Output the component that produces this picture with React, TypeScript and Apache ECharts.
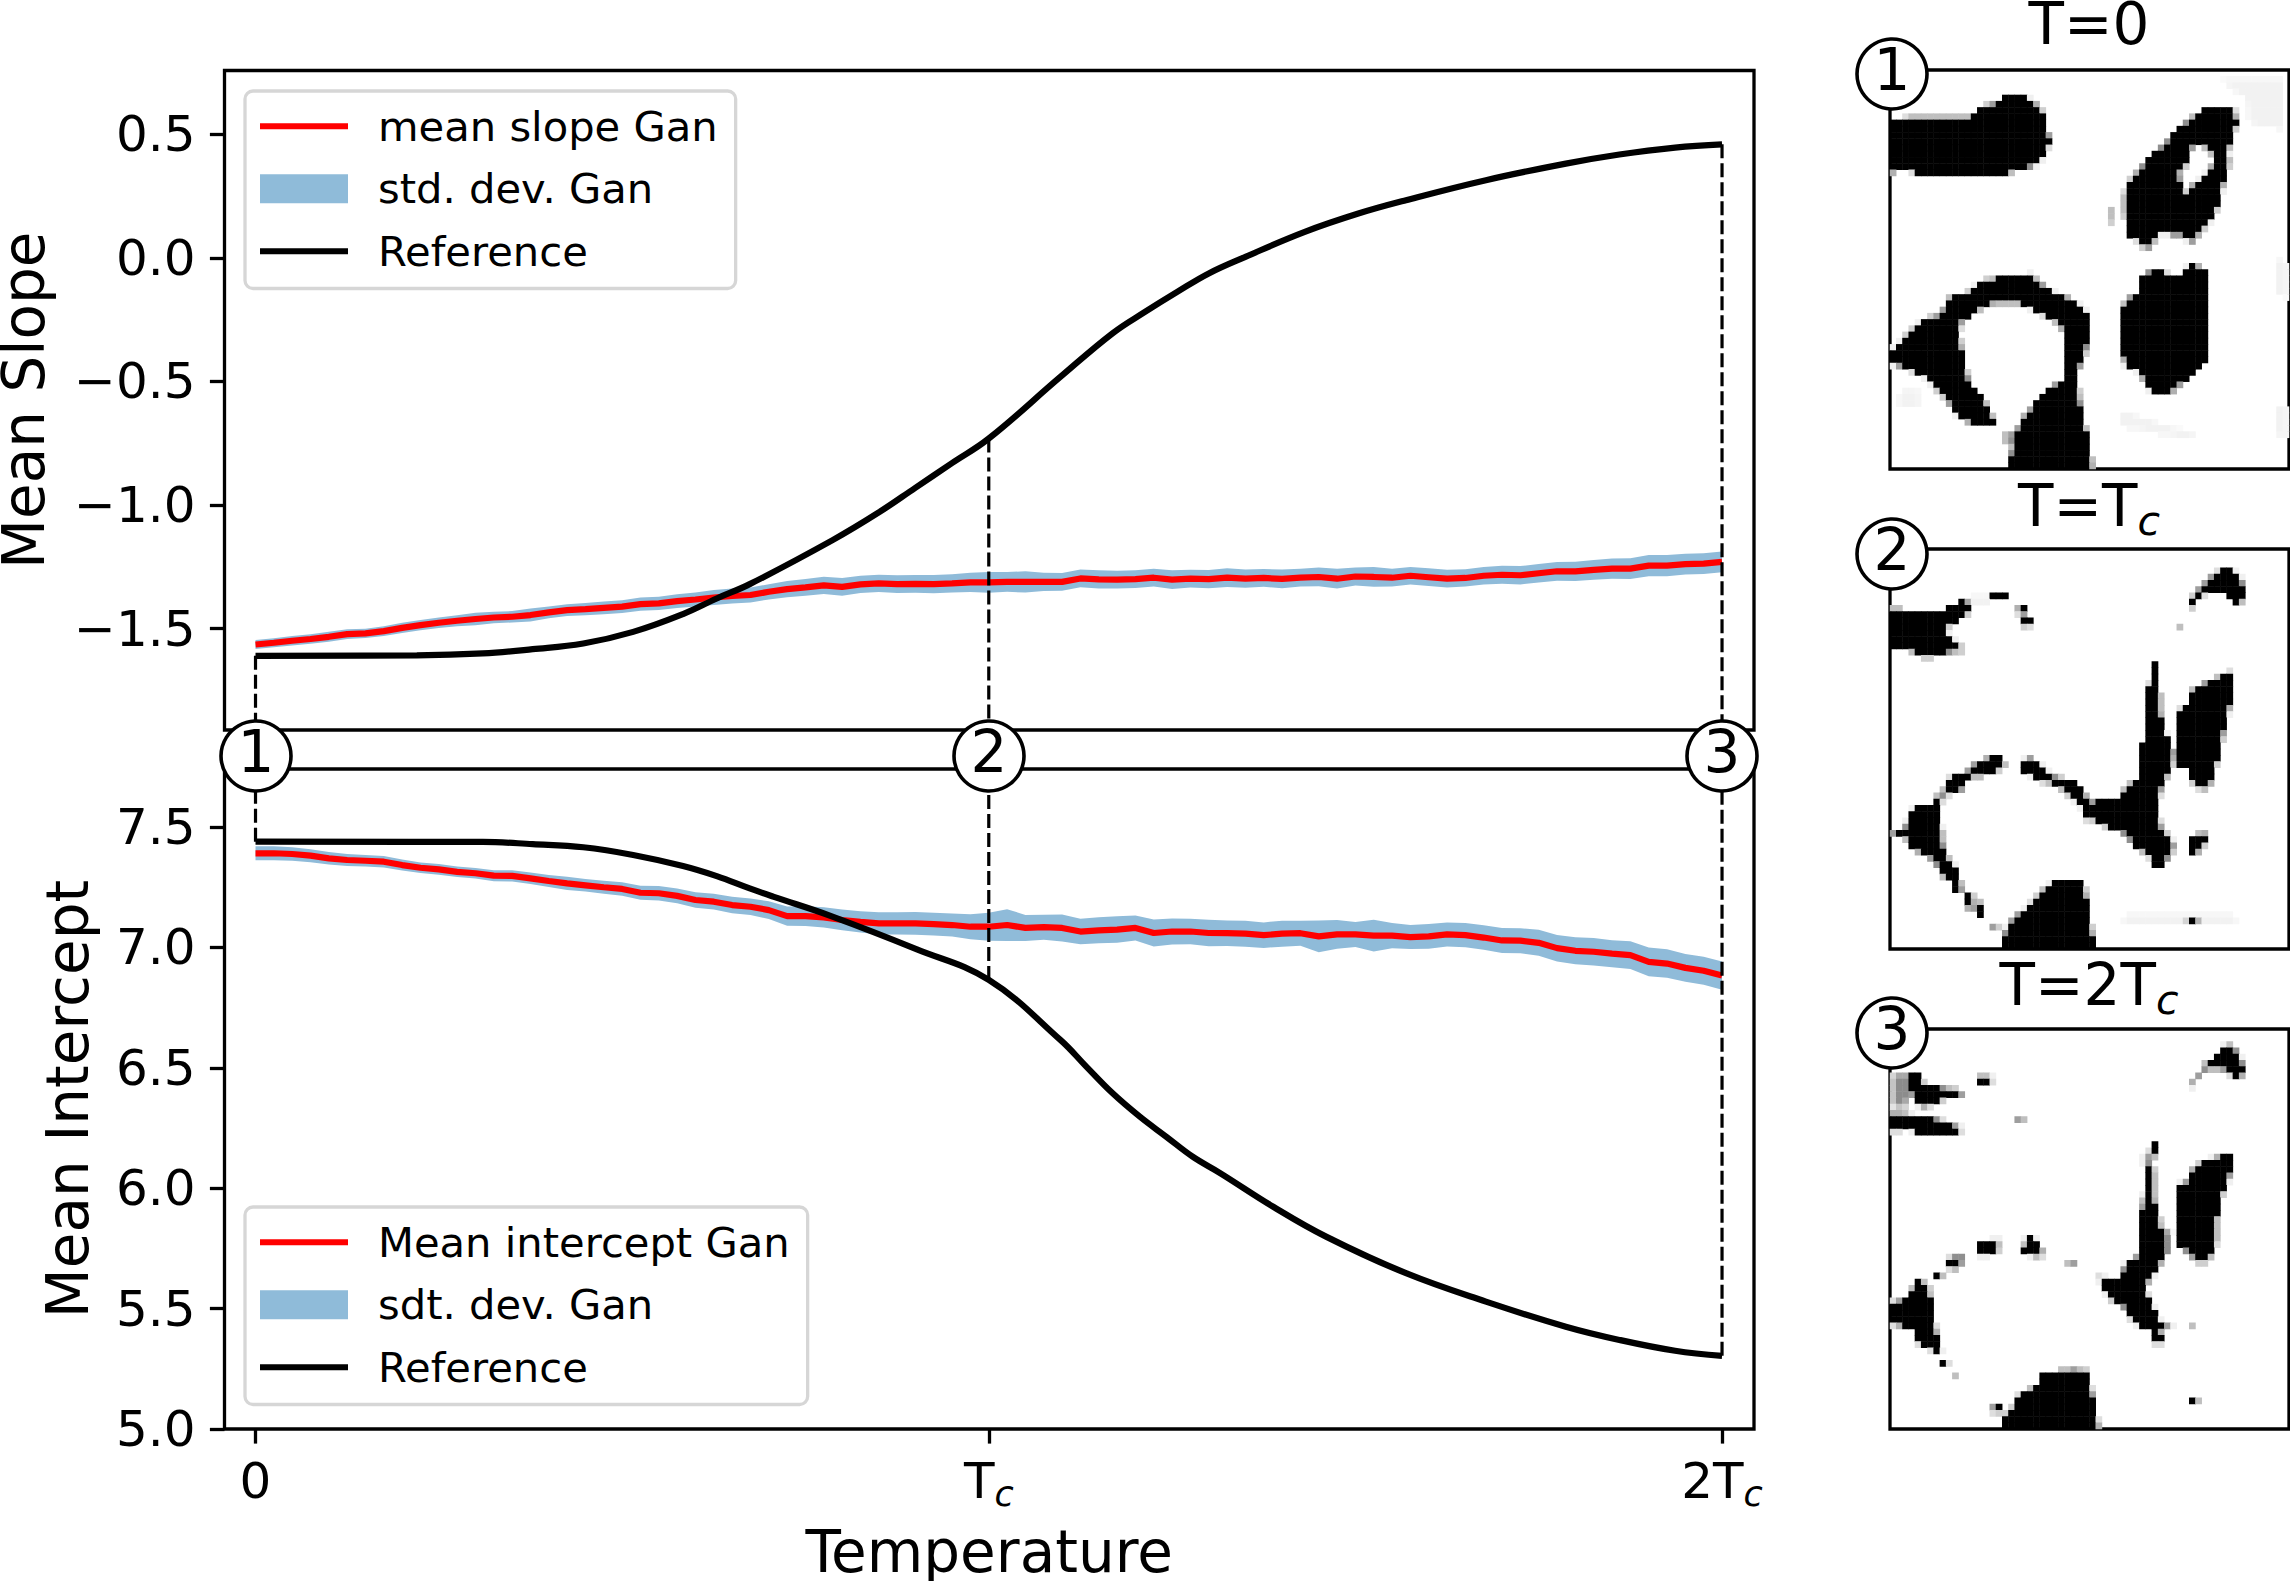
import React, { useEffect, useRef } from "react";
import * as echarts from "echarts";

const FONT = "DejaVu Sans";
const tempTicks = [0, 1, 2];
const slopeTicks = [-1.5, -1, -0.5, 0, 0.5];
const interceptTicks = [5, 5.5, 6, 6.5, 7, 7.5];
const dropTemps = [0, 1, 2];

const ganTemps = Array.from({ length: 81 }, (_, i) => i * 0.025);

const slopeMean = [
  -1.564,-1.557,-1.549,-1.542,-1.533,-1.522,-1.519,-1.510,-1.497,-1.486,
  -1.476,-1.468,-1.461,-1.455,-1.452,-1.445,-1.434,-1.425,-1.421,-1.416,
  -1.411,-1.401,-1.398,-1.389,-1.382,-1.374,-1.368,-1.364,-1.351,-1.340,
  -1.333,-1.325,-1.331,-1.321,-1.317,-1.320,-1.319,-1.320,-1.317,-1.313,
  -1.313,-1.311,-1.311,-1.311,-1.311,-1.297,-1.301,-1.302,-1.300,-1.294,
  -1.302,-1.298,-1.300,-1.294,-1.298,-1.295,-1.299,-1.294,-1.291,-1.298,
  -1.289,-1.291,-1.294,-1.286,-1.292,-1.298,-1.295,-1.286,-1.282,-1.284,
  -1.276,-1.268,-1.268,-1.262,-1.257,-1.257,-1.245,-1.245,-1.239,-1.237,
  -1.230,
];
const slopeStd = [
  .018,.018,.019,.019,.020,.020,.019,.020,.021,.021,
  .021,.022,.025,.023,.023,.026,.024,.024,.025,.026,
  .026,.027,.027,.028,.028,.030,.030,.030,.031,.033,
  .034,.035,.036,.035,.035,.036,.036,.037,.037,.039,
  .042,.040,.043,.037,.036,.036,.037,.036,.036,.036,
  .038,.036,.037,.038,.037,.036,.038,.036,.038,.040,
  .036,.040,.036,.035,.036,.036,.035,.035,.036,.037,
  .037,.038,.039,.040,.041,.042,.043,.043,.042,.042,
  .042,
];
const interceptMean = [
  7.391,7.391,7.388,7.381,7.370,7.363,7.360,7.356,7.342,7.331,
  7.324,7.314,7.308,7.298,7.297,7.287,7.276,7.266,7.258,7.250,
  7.243,7.227,7.225,7.214,7.197,7.190,7.176,7.169,7.155,7.130,
  7.130,7.125,7.114,7.106,7.100,7.100,7.100,7.097,7.093,7.086,
  7.086,7.093,7.081,7.084,7.081,7.066,7.071,7.074,7.081,7.060,
  7.066,7.066,7.060,7.059,7.057,7.051,7.057,7.059,7.046,7.054,
  7.054,7.049,7.049,7.043,7.046,7.054,7.051,7.041,7.029,7.028,
  7.019,6.997,6.986,6.982,6.974,6.968,6.940,6.933,6.915,6.903,
  6.883,
];
const interceptStd = [
  .029,.029,.028,.027,.026,.025,.024,.024,.023,.022,
  .022,.022,.022,.023,.023,.024,.025,.027,.026,.027,
  .028,.029,.030,.031,.032,.033,.034,.034,.037,.040,
  .041,.042,.043,.044,.046,.046,.047,.047,.048,.052,
  .058,.066,.054,.052,.056,.053,.054,.055,.052,.056,
  .054,.053,.055,.053,.054,.053,.054,.052,.066,.060,
  .052,.066,.052,.050,.051,.050,.050,.051,.052,.052,
  .054,.055,.056,.057,.056,.058,.060,.059,.058,.058,
  .059,
];

const slopeRefCurve = [
  [0,-1.610],[0.22,-1.608],[0.31,-1.600],[0.378,-1.583],[0.447,-1.560],[0.515,-1.513],[0.583,-1.441],
  [0.629,-1.378],[0.674,-1.320],[0.787,-1.142],[0.85,-1.03],[0.9,-0.93],[0.95,-0.83],[1,-0.731],
  [1.098,-0.481],[1.169,-0.305],[1.213,-0.219],[1.257,-0.138],[1.30,-0.063],[1.35,0.004],[1.431,0.105],
  [1.504,0.179],[1.569,0.233],[1.678,0.314],[1.787,0.381],[1.86,0.418],[1.936,0.446],[2,0.459],
];
const interceptRefCurve = [
  [0,7.439],[0.31,7.438],[0.378,7.429],[0.447,7.416],[0.515,7.384],[0.583,7.338],[0.629,7.296],
  [0.674,7.245],[0.707,7.21],[0.785,7.130],[0.902,6.992],[1,6.865],[1.098,6.615],[1.133,6.505],[1.169,6.394],
  [1.206,6.297],[1.242,6.214],[1.278,6.131],[1.316,6.062],[1.388,5.923],[1.46,5.799],[1.569,5.647],[1.678,5.529],[1.787,5.425],
  [1.86,5.370],[1.936,5.325],[2,5.304],
];
const slopeAtDrops = [-1.610, -0.731, 0.459];
const interceptAtDrops = [7.439, 6.865, 5.304];

// Lattice snapshots, black regions (units: 1198 per panel side).
const snapshot1Black = [
  [[212,358],[450,355],[470,340],[495,320],[535,312],[565,285],[600,285],[635,305],[660,325],[678,365],[680,400],[695,420],[670,460],[655,490],[630,500],[560,518],[500,530],[350,530],[290,520],[265,505],[235,505],[212,520]],
  [[1148,320],[1240,320],[1250,370],[1240,400],[1232,435],[1222,450],[1225,500],[1212,540],[1198,600],[1180,650],[1145,690],[1120,725],[1105,720],[1095,695],[1070,710],[1055,695],[1035,700],[1020,695],[1005,720],[980,748],[960,730],[945,705],[922,712],[925,680],[915,640],[920,560],[960,510],[995,470],[1035,435],[1070,395],[1110,360],[1148,340]],
  [[878,620],[884,620],[884,675],[878,675]],
  [[985,820],[1020,810],[1060,838],[1090,830],[1115,790],[1165,820],[1160,1075],[1130,1110],[1095,1140],[1050,1180],[1000,1180],[980,1150],[955,1110],[920,1100],[905,1040],[905,960],[920,900],[960,880],[960,840]],
  [[218,1055],[285,985],[320,958],[360,950],[395,890],[450,880],[490,845],[630,825],[695,880],[765,905],[800,945],[805,1000],[795,1060],[770,1120],[765,1145],[740,1135],[745,1040],[725,975],[650,930],[590,905],[510,910],[425,960],[415,1000],[430,1090],[450,1160],[490,1200],[525,1270],[475,1275],[420,1255],[395,1215],[345,1160],[320,1130],[250,1100],[218,1090]],
  [[740,1140],[770,1140],[780,1220],[800,1310],[818,1405],[570,1405],[585,1310],[615,1250],[660,1200],[690,1165]],
  [[558,1305],[578,1305],[578,1322],[558,1322]],
];
const snapshot1White = [
  [[1100,450],[1140,432],[1175,450],[1185,490],[1150,540],[1110,565],[1110,590],[1085,570],[1075,520],[1100,490]],
];
const snapshot1Faint = [
  [[1200,240],[1390,240],[1390,390],[1290,370],[1280,300]],
  [[1365,780],[1405,780],[1405,900],[1370,880]],
  [[1365,1220],[1405,1220],[1405,1330],[1365,1300]],
  [[240,1170],[300,1170],[300,1225],[240,1225]],
  [[900,1230],[1150,1310],[1100,1320],[900,1280]],
];
const snapshot2Black = [
  [[218,355],[235,355],[240,370],[380,365],[380,345],[420,345],[420,328],[440,330],[445,370],[395,400],[370,425],[400,455],[430,480],[345,490],[330,503],[310,500],[295,490],[245,470],[218,480]],
  [[510,312],[565,312],[565,325],[510,325]],
  [[595,345],[610,345],[620,375],[600,375]],
  [[605,385],[632,385],[632,408],[610,408]],
  [[1112,335],[1130,310],[1150,290],[1185,255],[1225,235],[1265,270],[1268,335],[1250,340],[1215,305],[1170,305],[1130,320],[1125,350],[1112,350]],
  [[1070,402],[1082,402],[1082,410],[1070,410]],
  [[1120,600],[1240,545],[1240,610],[1220,680],[1195,800],[1165,895],[1140,895],[1110,865],[1110,825],[1072,825],[1072,700],[1085,655],[1105,655]],
  [[998,515],[1008,515],[1010,580],[1018,610],[1022,680],[1025,760],[1040,735],[1060,790],[1058,820],[1028,880],[1010,940],[1020,1010],[1060,1060],[1058,1085],[1040,1105],[1025,1135],[1000,1130],[990,1090],[955,1075],[915,1030],[890,1015],[835,1000],[820,985],[820,930],[900,935],[920,890],[960,870],[960,780],[980,750],[978,590],[995,585]],
  [[1112,1040],[1160,1030],[1165,1045],[1130,1090],[1112,1095]],
  [[258,1010],[285,955],[340,945],[345,925],[365,915],[385,880],[400,850],[440,850],[470,820],[510,805],[545,805],[555,830],[490,855],[440,860],[425,900],[370,915],[358,950],[365,1060],[380,1100],[415,1150],[425,1210],[400,1205],[395,1160],[370,1160],[355,1125],[320,1090],[272,1075],[258,1040]],
  [[218,1020],[250,1020],[250,1035],[218,1035]],
  [[440,1210],[458,1215],[462,1260],[445,1255]],
  [[472,1240],[490,1240],[490,1280],[472,1280]],
  [[622,805],[640,810],[695,860],[760,875],[800,920],[808,960],[800,1000],[795,960],[770,930],[730,900],[720,880],[670,875],[600,835]],
  [[545,1375],[560,1320],[585,1280],[620,1260],[665,1205],[710,1175],[790,1175],[800,1240],[815,1330],[825,1375]],
  [[520,1300],[535,1300],[535,1315],[520,1315]],
  [[1105,1285],[1135,1285],[1135,1298],[1105,1298]],
];
const snapshot2White: number[][][] = [];
const snapshot2Faint = [
  [[910,1280],[1250,1280],[1250,1292],[910,1292]],
  [[440,325],[510,325],[510,335],[440,335]],
];
const snapshot3Black = [
  [[275,345],[300,340],[310,375],[350,385],[430,395],[430,405],[380,410],[350,430],[310,440],[290,430],[275,400]],
  [[218,455],[240,465],[300,470],[350,480],[420,505],[420,515],[285,515],[270,500],[218,515]],
  [[470,355],[515,355],[515,365],[470,365]],
  [[590,470],[612,470],[612,480],[590,480]],
  [[1148,320],[1190,295],[1220,260],[1240,260],[1268,310],[1265,350],[1250,355],[1210,325],[1148,328]],
  [[1130,340],[1145,340],[1145,348],[1130,348]],
  [[1112,362],[1122,362],[1118,382],[1112,382]],
  [[1110,640],[1150,605],[1215,590],[1240,590],[1235,630],[1200,720],[1190,770],[1185,870],[1160,905],[1135,905],[1100,870],[1072,855],[1072,680],[1108,665]],
  [[998,545],[1006,545],[1006,590],[980,595],[965,605],[962,610],[998,590],[1000,720],[1015,760],[1025,830],[1022,910],[985,960],[975,990],[1000,1050],[1025,1095],[1060,1100],[1020,1110],[1025,1150],[1005,1150],[1000,1110],[970,1100],[940,1080],[915,1040],[885,1025],[850,985],[840,945],[860,960],[910,960],[915,920],[960,885],[962,800]],
  [[470,850],[535,840],[535,875],[490,885],[470,875]],
  [[385,900],[425,885],[430,905],[405,928],[385,920]],
  [[620,835],[640,835],[668,875],[665,890],[612,880]],
  [[745,908],[765,908],[765,918],[745,918]],
  [[342,940],[368,940],[368,948],[342,948]],
  [[285,958],[312,958],[312,966],[285,966]],
  [[218,1030],[270,1015],[280,980],[325,980],[335,1060],[350,1130],[365,1180],[340,1170],[285,1140],[285,1105],[225,1090],[218,1095]],
  [[360,1208],[385,1208],[385,1218],[360,1218]],
  [[395,1248],[408,1248],[408,1256],[395,1256]],
  [[1110,1098],[1120,1098],[1120,1108],[1110,1108]],
  [[545,1405],[550,1370],[585,1340],[585,1315],[620,1295],[660,1275],[670,1240],[760,1230],[805,1235],[810,1280],[820,1320],[835,1405]],
  [[520,1335],[540,1335],[540,1355],[520,1355]],
  [[1110,1315],[1135,1315],[1135,1328],[1110,1328]],
];
const snapshot3White: number[][][] = [];
const snapshot3Grey = [
  [[218,345],[275,345],[260,440],[218,440]],
  [[1030,810],[1055,810],[1050,880],[1030,880]],
];

const LATTICE = 64;
const latticeLabels = Array.from({ length: LATTICE }, (_, i) => String(i));

function inside(poly: number[][], x: number, y: number) {
  let hit = false;
  for (let i = 0, j = poly.length - 1; i < poly.length; j = i++) {
    const [xi, yi] = poly[i];
    const [xj, yj] = poly[j];
    if (yi > y !== yj > y && x < ((xj - xi) * (y - yi)) / (yj - yi) + xi) hit = !hit;
  }
  return hit;
}

function latticeCells(black: number[][][], white: number[][][], faint: number[][][], faintLevel: number, offsetY: number) {
  const out: number[][] = [];
  const sub = 4;
  const side = 1198;
  for (let r = 0; r < LATTICE; r++) {
    for (let c = 0; c < LATTICE; c++) {
      let sum = 0;
      for (let a = 0; a < sub; a++) {
        for (let b = 0; b < sub; b++) {
          const x = 210 + ((c + (a + 0.5) / sub) / LATTICE) * side;
          const y = offsetY + ((r + (b + 0.5) / sub) / LATTICE) * side;
          let v = 0;
          if (faint.some((p) => inside(p, x, y))) v = faintLevel;
          if (black.some((p) => inside(p, x, y))) v = 1;
          if (white.some((p) => inside(p, x, y))) v = 0;
          sum += v;
        }
      }
      const level = sum / (sub * sub);
      if (level > 0.02) out.push([c, r, level >= 0.5 ? 1 : Math.round(level * 100) / 100]);
    }
  }
  return out;
}

const minus = (v: number) => v.toFixed(1).replace("-", "\u2212");

const bandSeries = (name: string, mean: number[], std: number[], xi: number, yi: number) => {
  const rows = ganTemps.map((t, i) => [t, mean[i] - std[i], mean[i] + std[i]]);
  return {
    type: "custom",
    name,
    xAxisIndex: xi,
    yAxisIndex: yi,
    encode: { x: 0, y: [1, 2] },
    data: rows,
    silent: true,
    itemStyle: { color: "#8fbbd9" },
    renderItem: (params: any, api: any) => {
      if (params.dataIndex !== 0) return null;
      const up = rows.map((r) => api.coord([r[0], r[2]]));
      const low = rows.map((r) => api.coord([r[0], r[1]])).reverse();
      return { type: "polygon", shape: { points: up.concat(low) }, style: { fill: "#8fbbd9" } };
    },
  };
};

const lineSeries = (name: string, data: number[][], color: string, xi: number, yi: number, smooth = false) => ({
  type: "line",
  name,
  xAxisIndex: xi,
  yAxisIndex: yi,
  data,
  showSymbol: false,
  symbol: "none",
  smooth: smooth ? 0.4 : false,
  lineStyle: { color, width: 6.2, cap: "butt" },
  itemStyle: { color },
});

const dropSeries = (t: number, a: number, b: number, xi: number, yi: number) => ({
  type: "line",
  xAxisIndex: xi,
  yAxisIndex: yi,
  data: [[t, a], [t, b]],
  symbol: "none",
  lineStyle: { color: "#000", width: 3.2, type: [14, 5] },
});

const heat = (data: number[][], i: number) => ({
  type: "heatmap",
  xAxisIndex: i,
  yAxisIndex: i,
  data,
  silent: true,
  emphasis: { disabled: true },
});

// A thin bar across an 88x29 legend key; the two empty strokes keep the key's full height.
const LINE_ICON = "path://M0,0L0.01,0M0,11.4H88V17.6H0ZM88,29L87.99,29";

const legendBlock = (top: number, names: string[]) => ({
  show: true,
  orient: "vertical",
  left: 245,
  top,
  data: [
    { name: names[0], icon: LINE_ICON },
    { name: names[1], icon: "rect" },
    { name: names[2], icon: LINE_ICON },
  ],
  itemWidth: 88,
  itemHeight: 29,
  itemGap: 18,
  padding: [13, 18, 15, 15],
  backgroundColor: "#fff",
  borderColor: "#d6d6d6",
  borderWidth: 3.3,
  borderRadius: 8,
  selectedMode: false,
  textStyle: { fontFamily: FONT, fontSize: 41.67, color: "#000", lineHeight: 44.5, padding: [0, 0, 0, 25] },
});

const baseValueAxis = (gridIndex: number, min: number, max: number, ticks: number[], name: string, nameGap: number) => ({
  type: "value",
  gridIndex,
  min,
  max,
  scale: true,
  splitLine: { show: false },
  axisLine: { show: false, onZero: false },
  name,
  nameLocation: "middle",
  nameGap,
  nameTextStyle: { fontFamily: FONT, fontSize: 58, color: "#000" },
  axisTick: { show: true, length: 14.6, customValues: ticks, lineStyle: { color: "#000", width: 3.3 } },
  axisLabel: {
    show: true,
    margin: 29,
    customValues: ticks,
    formatter: (v: number) => minus(v),
    fontFamily: FONT,
    fontSize: 50,
    color: "#000",
  },
});

const hiddenCat = (gridIndex: number, inverse: boolean) => ({
  type: "category",
  gridIndex,
  data: latticeLabels,
  inverse,
  show: false,
  boundaryGap: true,
});

const T_MIN = -0.0423;
const T_MAX = 2.0436;

const titleRich = {
  m: { fontFamily: FONT, fontSize: 58, fontWeight: "normal", color: "#000", lineHeight: 70 },
  s: { fontFamily: FONT, fontSize: 41, fontWeight: "normal", fontStyle: "italic", color: "#000", verticalAlign: "bottom" },
};
const plainTitleRich = {
  m: { fontFamily: FONT, fontSize: 58, fontWeight: "normal", color: "#000", lineHeight: 48 },
};

function buildOption() {
  const s1 = latticeCells(snapshot1Black, snapshot1White, snapshot1Faint, 0.05, 210);
  const s2 = latticeCells(snapshot2Black, snapshot2White, snapshot2Faint, 0.1, 178);
  const s3 = latticeCells(snapshot3Black, snapshot3White, snapshot3Grey, 0.45, 208);

  const series: any[] = [
    heat(s1, 2),
    heat(s2, 3),
    heat(s3, 4),
    bandSeries("std. dev. Gan", slopeMean, slopeStd, 0, 0),
    lineSeries("mean slope Gan", ganTemps.map((t, i) => [t, slopeMean[i]]), "#ff0000", 0, 0),
    lineSeries("Reference", slopeRefCurve, "#000", 0, 0, true),
    bandSeries("sdt. dev. Gan", interceptMean, interceptStd, 1, 1),
    lineSeries("Mean intercept Gan", ganTemps.map((t, i) => [t, interceptMean[i]]), "#ff0000", 1, 1),
    lineSeries("Reference", interceptRefCurve, "#000", 1, 1, true),
    ...dropTemps.map((t, i) => dropSeries(t, slopeAtDrops[i], -1.91, 0, 0)),
    ...dropTemps.map((t, i) => dropSeries(t, interceptAtDrops[i], 7.741, 1, 1)),
  ];

  const marker = (x: number, y: number, label: string, r = 35) => [
    { type: "circle", shape: { cx: x, cy: y, r }, style: { fill: "#fff", stroke: "#000", lineWidth: 3.6 }, z: 50, silent: true },
    { type: "text", x, y: y - 4, style: { text: label, fontFamily: FONT, fontSize: 58, fill: "#000", align: "center", verticalAlign: "middle" }, z: 51, silent: true },
  ];

  const gridBase = { show: true, borderColor: "#000", borderWidth: 3.3, outerBoundsMode: "none", containLabel: false };

  return {
    animation: false,
    backgroundColor: "#fff",
    textStyle: { fontFamily: FONT },
    title: [
      { text: "{m|T=0}", left: 2089, top: 0, textAlign: "center", padding: 0, textStyle: { fontWeight: "normal", rich: plainTitleRich } },
      { text: "{m|T=T}{s|c}", left: 2089, top: 471, textAlign: "center", padding: 0, textStyle: { fontWeight: "normal", rich: titleRich } },
      { text: "{m|T=2T}{s|c}", left: 2089, top: 950, textAlign: "center", padding: 0, textStyle: { fontWeight: "normal", rich: titleRich } },
    ],
    legend: [
      legendBlock(91, ["mean slope Gan", "std. dev. Gan", "Reference"]),
      legendBlock(1207, ["Mean intercept Gan", "sdt. dev. Gan", "Reference"]),
    ],
    grid: [
      { ...gridBase, left: 224.5, top: 70.5, width: 1529.5, height: 659.5 },
      { ...gridBase, left: 224.5, top: 769, width: 1529.5, height: 660 },
      { ...gridBase, left: 1890, top: 70, width: 399, height: 399 },
      { ...gridBase, left: 1890, top: 549, width: 399, height: 400 },
      { ...gridBase, left: 1890, top: 1029, width: 399, height: 400 },
    ],
    xAxis: [
      { type: "value", gridIndex: 0, min: T_MIN, max: T_MAX, show: false, splitLine: { show: false } },
      {
        type: "value",
        gridIndex: 1,
        min: T_MIN,
        max: T_MAX,
        splitLine: { show: false },
        axisLine: { show: false, onZero: false },
        name: "Temperature",
        nameLocation: "middle",
        nameGap: 98,
        nameTextStyle: { fontFamily: FONT, fontSize: 58, color: "#000", lineHeight: 50 },
        axisTick: { show: true, length: 14.6, customValues: tempTicks, lineStyle: { color: "#000", width: 3.3 } },
        axisLabel: {
          show: true,
          margin: 22,
          customValues: tempTicks,
          formatter: (v: number) => (v === 0 ? "{m|0}" : v === 1 ? "{m|T}{s|c}" : "{m|2T}{s|c}"),
          rich: {
            m: { fontFamily: FONT, fontSize: 50, color: "#000", lineHeight: 60 },
            s: { fontFamily: FONT, fontSize: 35, fontStyle: "italic", color: "#000", verticalAlign: "bottom" },
          },
        },
      },
      hiddenCat(2, false),
      hiddenCat(3, false),
      hiddenCat(4, false),
    ],
    yAxis: [
      baseValueAxis(0, -1.91, 0.7577, slopeTicks, "Mean Slope", 172),
      baseValueAxis(1, 5, 7.741, interceptTicks, "Mean Intercept", 128),
      hiddenCat(2, true),
      hiddenCat(3, true),
      hiddenCat(4, true),
    ],
    visualMap: {
      type: "continuous",
      show: false,
      min: 0,
      max: 1,
      seriesIndex: [0, 1, 2],
      inRange: { color: ["#ffffff", "#000000"] },
    },
    graphic: [
      ...marker(256, 756, "1"),
      ...marker(989, 756, "2"),
      ...marker(1722, 756, "3"),
      ...marker(1892, 74, "1"),
      ...marker(1892, 554, "2"),
      ...marker(1892, 1033, "3"),
    ],
    series,
  };
}

export default function App() {
  const ref = useRef<HTMLDivElement>(null);
  useEffect(() => {
    if (!ref.current) return;
    const chart = echarts.init(ref.current, undefined, { renderer: "svg" });
    chart.setOption(buildOption() as any);
    return () => chart.dispose();
  }, []);
  return <div ref={ref} style={{ position: "absolute", left: 0, top: 0, width: 2290, height: 1581 }} />;
}
